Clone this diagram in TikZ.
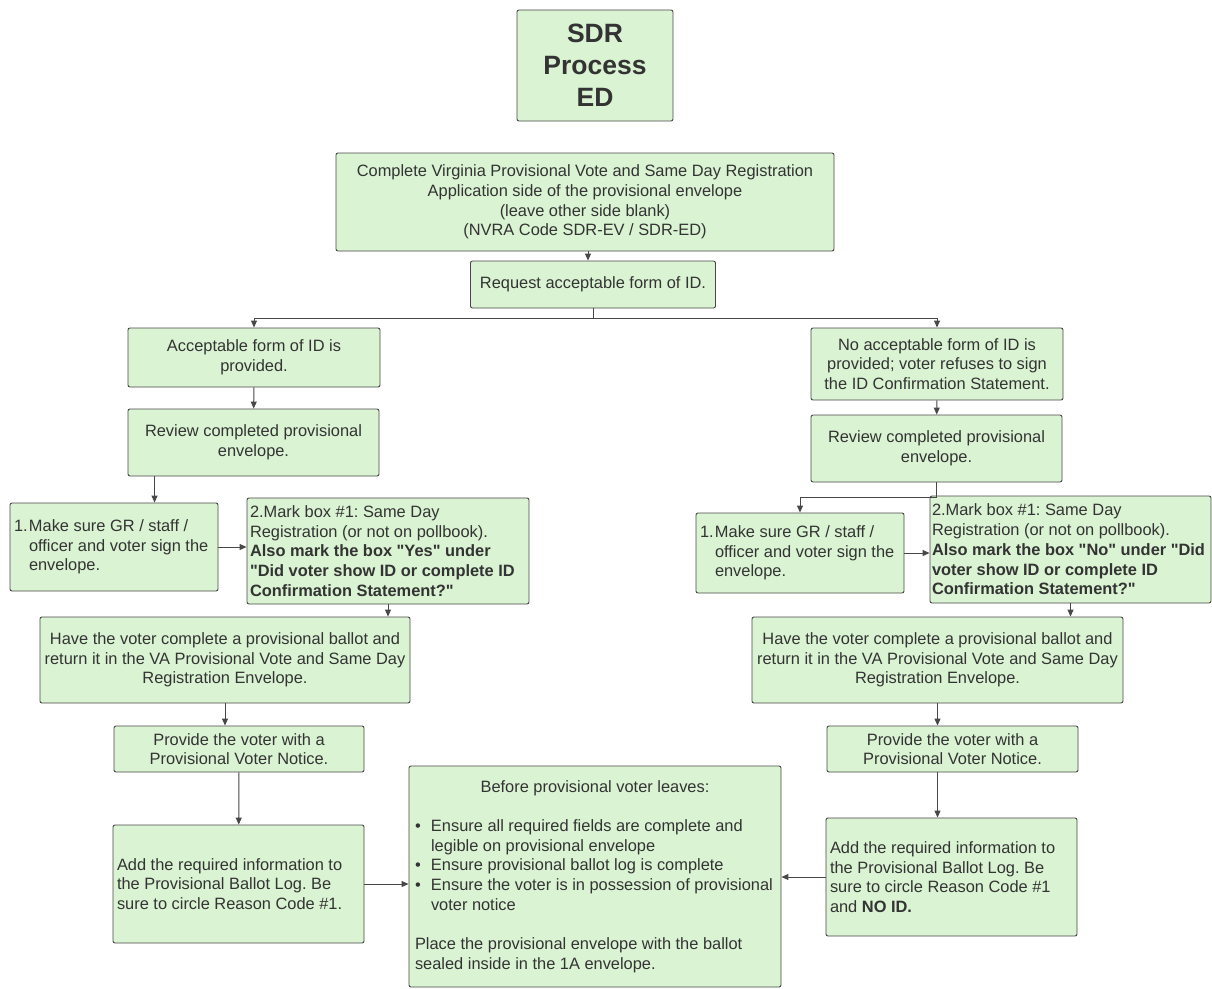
\documentclass[tikz,border=0pt]{standalone}
\usepackage{fontspec}
\defaultfontfeatures[\rmfamily]{}
\setmainfont{Liberation Sans}
\usepackage{tikz}
\usetikzlibrary{arrows.meta}
\definecolor{boxgreen}{HTML}{DAF3D3}
\definecolor{linegray}{HTML}{474747}
\definecolor{textgray}{HTML}{333333}
\frenchspacing

\begin{document}
\begin{tikzpicture}[x=1pt,y=-1pt,
font=\fontsize{16.4}{19.7}\selectfont,
box/.style={draw=linegray,fill=boxgreen,rounded corners=2pt,line width=0.9pt,text=textgray,inner xsep=4pt,inner ysep=0pt,align=center},
lbox/.style={box,align=flush left},
flow/.style={-{Triangle[length=7pt,width=6pt]},draw=linegray,line width=1pt}]
    \useasboundingbox (0,0) rectangle (1212,988);

    % Title and common start
    \node[box,minimum width=156,minimum height=111,font=\bfseries\fontsize{26.5}{32}\selectfont] (title) at (595,65.5) {SDR\\Process\\ED};
    \node[box,minimum width=498,minimum height=98] (complete) at (585,202)
        {Complete Virginia Provisional Vote and Same Day Registration\\Application side of the provisional envelope\\(leave other side blank)\\(NVRA Code SDR-EV / SDR-ED)};
    \node[box,minimum width=245,minimum height=47] (request) at (593,284.5) {Request acceptable form of ID.};

    % ID provided
    \node[box,minimum width=252,minimum height=59] (acc) at (254,357.5) {Acceptable form of ID is\\provided.};
    \node[box,minimum width=251,minimum height=67] (revL) at (253.5,442.5) {Review completed provisional\\envelope.};
    \node[lbox,text width=200,minimum height=88] (makeL) at (114,547)
        {\makebox[15pt][l]{1.}Make sure GR / staff /\\%
        \hspace*{15pt}officer and voter sign the\\%
        \hspace*{15pt}envelope.};
    \node[lbox,text width=276,inner xsep=3pt,minimum height=106] (markL) at (388,551)
        {2.Mark box \#1: Same Day\\%
        Registration (or not on pollbook).\\%
        \textbf{Also mark the box "Yes" under}\\%
        \textbf{"Did voter show ID or complete ID}\\%
        \textbf{Confirmation Statement?"}};
    \node[box,minimum width=370,minimum height=86] (haveL) at (225,660)
        {Have the voter complete a provisional ballot and\\return it in the VA Provisional Vote and Same Day\\Registration Envelope.};
    \node[box,minimum width=250,minimum height=46] (provL) at (239,749) {Provide the voter with a\\Provisional Voter Notice.};
    \node[lbox,text width=243,minimum height=118] (addL) at (238.5,884)
        {Add the required information to\\%
        the Provisional Ballot Log. Be\\%
        sure to circle Reason Code \#1.};

    % No ID
    \node[box,minimum width=252,minimum height=72] (noacc) at (937,364)
        {No acceptable form of ID is\\provided; voter refuses to sign\\the ID Confirmation Statement.};
    \node[box,minimum width=251,minimum height=67] (revR) at (936.5,448.5) {Review completed provisional\\envelope.};
    \node[lbox,text width=200,minimum height=80] (makeR) at (800,553)
        {\makebox[15pt][l]{1.}Make sure GR / staff /\\%
        \hspace*{15pt}officer and voter sign the\\%
        \hspace*{15pt}envelope.};
    \node[lbox,text width=277,inner xsep=2pt,minimum height=107] (markR) at (1070.5,549.5)
        {2.Mark box \#1: Same Day\\%
        Registration (or not on pollbook).\\%
        \textbf{Also mark the box "No" under "Did}\\%
        \textbf{voter show ID or complete ID}\\%
        \textbf{Confirmation Statement?"}};
    \node[box,minimum width=371,minimum height=86] (haveR) at (937.5,660)
        {Have the voter complete a provisional ballot and\\return it in the VA Provisional Vote and Same Day\\Registration Envelope.};
    \node[box,minimum width=251,minimum height=46] (provR) at (952.5,749) {Provide the voter with a\\Provisional Voter Notice.};
    \node[lbox,text width=243,minimum height=118] (addR) at (951.5,877)
        {Add the required information to\\%
        the Provisional Ballot Log. Be\\%
        sure to circle Reason Code \#1\\%
        and \textbf{NO ID.}};

    % Final step
    \node[lbox,text width=360,inner xsep=6pt,minimum height=221] (before) at (595,876.5)
        {\makebox[360pt]{Before provisional voter leaves:}\\[19.7pt]%
        \makebox[16pt][l]{\textbullet}Ensure all required fields are complete and\\%
        \hspace*{16pt}legible on provisional envelope\\%
        \makebox[16pt][l]{\textbullet}Ensure provisional ballot log is complete\\%
        \makebox[16pt][l]{\textbullet}Ensure the voter is in possession of provisional\\%
        \hspace*{16pt}voter notice\\[19.7pt]%
        Place the provisional envelope with the ballot\\%
        sealed inside in the 1A envelope.};

    % Connectors
    \draw[flow] ([xshift=-5pt]request.north |- complete.south) -- ([xshift=-5pt]request.north);
    \draw[flow] (request.south) -- ++(0,10) -| (acc.north);
    \draw[flow] (request.south) -- ++(0,10) -| (noacc.north);

    \draw[flow] (acc) -- (revL);
    \draw[flow] ([xshift=27pt]revL.south west) -- ([xshift=27pt]revL.south west |- makeL.north);
    \draw[flow] (makeL.east) -- (makeL.east -| markL.west);
    \draw[flow] (markL.south) -- (markL.south |- haveL.north);
    \draw[flow] (haveL.south) -- (haveL.south |- provL.north);
    \draw[flow] (provL) -- (addL);
    \draw[flow] (addL.east) -- (addL.east -| before.west);

    \draw[flow] (noacc) -- (revR);
    \draw[flow] (revR.south) -- ++(0,15) -| (makeR.north);
    \draw[flow] (makeR.east) -- (makeR.east -| markR.west);
    \draw[flow] (markR.south) -- (markR.south |- haveR.north);
    \draw[flow] (haveR.south) -- (haveR.south |- provR.north);
    \draw[flow] ([xshift=-15pt]provR.south) -- ([xshift=-15pt]provR.south |- addR.north);
    \draw[flow] (addR.west) -- (addR.west -| before.east);
\end{tikzpicture}
\end{document}
